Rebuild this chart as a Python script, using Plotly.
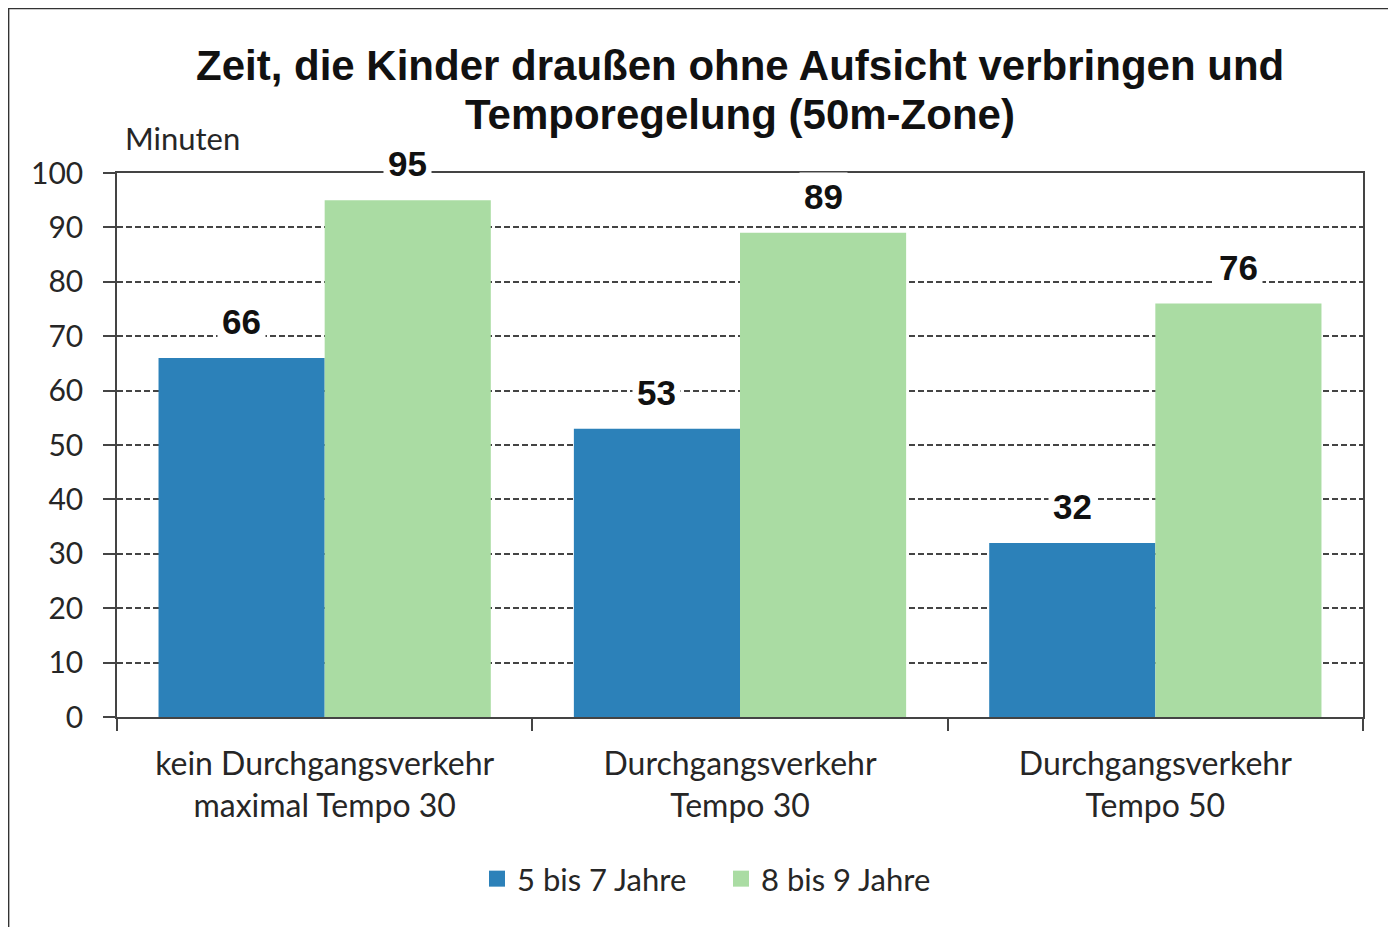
import plotly.graph_objects as go

categories = ["kein Durchgangsverkehr<br>maximal Tempo 30",
              "Durchgangsverkehr<br>Tempo 30",
              "Durchgangsverkehr<br>Tempo 50"]
series_names = ["5 bis 7 Jahre", "8 bis 9 Jahre"]
values_5_7 = [66, 53, 32]
values_8_9 = [95, 89, 76]
colors = ["#2C81B9", "#AADCA3"]
title_lines = ["Zeit, die Kinder draußen ohne Aufsicht verbringen und",
               "Temporegelung (50m-Zone)"]

# page has an 8px body margin; figure starts at (8, 8)
W, H = 1388, 919
ML, MT = 109, 165
MR = W + 8 - 1363
MB = H + 8 - 717
plot_w = W - ML - MR
plot_h = H - MT - MB
bargap = 0.2
bar_px = plot_w / len(categories) * (1 - bargap) / 2


def py(page_y):
    return 1 + (173 - page_y) / plot_h


def px(page_x):
    return (page_x - 117) / plot_w


fig = go.Figure()
for name, vals, col in zip(series_names, [values_5_7, values_8_9], colors):
    fig.add_trace(go.Bar(x=categories, y=vals, name=name, showlegend=False,
                         marker=dict(color=col, line=dict(width=0))))
    fig.add_trace(go.Scatter(x=[None], y=[None], mode="markers", name=name,
                             marker=dict(symbol="square", size=20, color=col)))

annotations = []
for i, vals in enumerate([values_5_7, values_8_9]):
    shift = (i - 0.5) * bar_px
    for c, v in zip(categories, vals):
        annotations.append(dict(
            x=c, y=v, xref="x", yref="y", text=str(v), showarrow=False,
            xshift=shift, yanchor="bottom", yshift=12,
            font=dict(family="Liberation Sans", size=35, color="#111", weight="bold"),
            bgcolor="white", borderpad=4))

annotations.append(dict(
    x=px(123), y=1, xref="paper", yref="paper", xanchor="left", yanchor="bottom",
    yshift=14, text="Minuten", showarrow=False,
    font=dict(family="Lato", size=31, color="#262626")))

for line, yy in zip(title_lines, [66, 115]):
    annotations.append(dict(
        x=0.5, y=py(yy), xref="paper", yref="paper", xanchor="center", yanchor="middle",
        text=line, showarrow=False,
        font=dict(family="Liberation Sans", size=42, color="#111", weight="bold")))

fig.update_layout(
    width=W, height=H,
    margin=dict(l=ML, r=MR, t=MT, b=MB),
    paper_bgcolor="white", plot_bgcolor="white",
    barmode="group", bargap=bargap, bargroupgap=0,
    legend=dict(orientation="h", x=px(477), xref="paper", xanchor="left",
                y=py(879), yanchor="middle",
                font=dict(family="Lato", size=31, color="#262626"), itemwidth=30,
                entrywidth=199, entrywidthmode="pixels",
                traceorder="normal", itemclick=False, itemsizing="trace"),
    annotations=annotations,
    font=dict(family="Lato", color="#262626"),
    shapes=[dict(type="rect", xref="paper", yref="paper",
                 x0=-ML / plot_w + 0.0005, x1=(W + 20 - ML) / plot_w,
                 y0=-2, y1=1 + (MT - 0.5) / plot_h,
                 line=dict(color="#333", width=1.5), layer="below")],
)

fig.update_yaxes(range=[0, 100], dtick=10, showgrid=True, gridcolor="#444", griddash="6px,3px",
                 gridwidth=1.5, showline=True, linecolor="#444", linewidth=1.5, mirror=True,
                 ticks="outside", ticklen=12, tickcolor="#444", tickwidth=1.5,
                 tickfont=dict(family="Lato", size=30, color="#262626"), ticklabelstandoff=14,
                 zeroline=False, fixedrange=True)
fig.update_xaxes(showline=True, linecolor="#444", linewidth=1.5, mirror=True,
                 ticks="outside", ticklen=12, tickcolor="#444", tickwidth=1.5, tickson="boundaries",
                 tickfont=dict(family="Lato", size=32, color="#262626"), ticklabelstandoff=18,
                 showgrid=False, fixedrange=True)

fig.write_html("out.html")
